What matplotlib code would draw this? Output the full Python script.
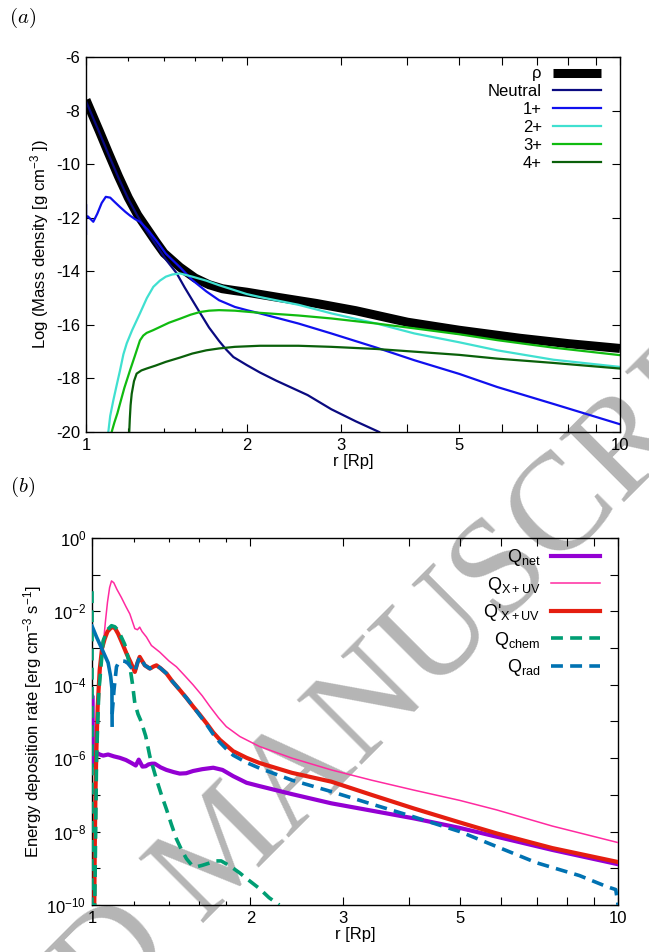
import numpy as np
import matplotlib
matplotlib.use('Agg')
import matplotlib.pyplot as plt
from matplotlib.ticker import FixedLocator, FixedFormatter, NullFormatter

plt.rcParams['font.family'] = ['Liberation Sans', 'DejaVu Sans']
plt.rcParams['mathtext.fontset'] = 'custom'
plt.rcParams['mathtext.rm'] = 'Liberation Sans'
plt.rcParams['mathtext.it'] = 'Liberation Sans:italic'
plt.rcParams['mathtext.bf'] = 'Liberation Sans:bold'
plt.rcParams['axes.unicode_minus'] = False

# ---------------- panel (a): log mass density ----------------
r_rho = [1.00, 1.03, 1.06, 1.10, 1.15, 1.20, 1.25, 1.30, 1.35, 1.40, 1.50, 1.60, 1.70,
         1.80, 1.90, 2.0, 2.3, 2.7, 3.2, 4.0, 5.0, 6.5, 8.0, 10.0]
rho = [-7.6, -8.2, -8.78, -9.55, -10.45, -11.25, -11.9, -12.4, -12.88, -13.32, -13.85,
       -14.25, -14.5, -14.65, -14.72, -14.78, -14.98, -15.2, -15.47, -15.9, -16.2, -16.5,
       -16.7, -16.88]

r_neu = [1.00, 1.03, 1.06, 1.10, 1.15, 1.20, 1.25, 1.30, 1.35, 1.41, 1.478, 1.53, 1.582,
         1.635, 1.70, 1.775, 1.83, 1.888, 2.0, 2.118, 2.27, 2.6, 2.88, 3.2, 3.54]
neu = [-7.65, -8.25, -8.83, -9.6, -10.5, -11.3, -11.95, -12.5, -12.98, -13.55, -14.07,
       -14.6, -15.08, -15.55, -16.1, -16.6, -16.92, -17.2, -17.5, -17.78, -18.08, -18.62,
       -19.15, -19.6, -20.0]

r_i1 = [1.0, 1.0, 1.0, 1.008, 1.02, 1.032, 1.05, 1.07, 1.089, 1.11, 1.13, 1.158, 1.185,
        1.209, 1.235, 1.262, 1.308, 1.36, 1.411, 1.5, 1.582, 1.68, 1.775, 1.9, 2.0, 2.116,
        2.5, 2.88, 3.5, 4.12, 5.0, 5.89, 7.5, 10.0]
i1 = [-12.6, -11.5, -12.0, -11.95, -12.05, -12.15, -11.85, -11.45, -11.22, -11.25, -11.4,
      -11.6, -11.78, -11.92, -12.05, -12.15, -12.47, -12.9, -13.34, -13.85, -14.33, -14.75,
      -15.08, -15.33, -15.45, -15.57, -15.95, -16.32, -16.85, -17.32, -17.83, -18.32,
      -18.95, -19.71]

r_i2 = [1.101, 1.11, 1.125, 1.14, 1.158, 1.175, 1.192, 1.22, 1.262, 1.3, 1.337, 1.375,
        1.411, 1.45, 1.5, 1.582, 1.68, 1.775, 2.0, 2.116, 2.5, 2.88, 3.5, 4.12, 5.0, 5.89,
        7.5, 10.0]
i2 = [-20.0, -19.4, -18.82, -18.3, -17.7, -17.1, -16.69, -16.2, -15.57, -15.0, -14.58,
      -14.35, -14.2, -14.12, -14.08, -14.2, -14.35, -14.52, -14.85, -14.96, -15.25, -15.57,
      -15.95, -16.32, -16.65, -16.95, -17.3, -17.57]

r_i3 = [1.117, 1.13, 1.145, 1.158, 1.18, 1.209, 1.235, 1.262, 1.28, 1.299, 1.335, 1.375,
        1.43, 1.5, 1.57, 1.635, 1.7, 1.775, 1.9, 2.116, 2.5, 2.88, 3.5, 4.12, 5.0, 5.89,
        7.5, 10.0]
i3 = [-20.0, -19.65, -19.3, -18.94, -18.35, -17.7, -17.15, -16.58, -16.4, -16.3, -16.2,
      -16.08, -15.92, -15.77, -15.62, -15.52, -15.47, -15.45, -15.47, -15.55, -15.65,
      -15.76, -15.95, -16.13, -16.35, -16.57, -16.85, -17.13]

r_i4 = [1.205, 1.208, 1.212, 1.218, 1.23, 1.244, 1.27, 1.299, 1.35, 1.411, 1.5, 1.582,
        1.68, 1.775, 1.9, 2.116, 2.5, 2.88, 3.5, 4.12, 5.0, 5.89, 7.5, 10.0]
i4 = [-20.0, -19.5, -19.0, -18.57, -18.1, -17.82, -17.7, -17.63, -17.52, -17.38, -17.22,
      -17.07, -16.95, -16.88, -16.82, -16.78, -16.78, -16.82, -16.9, -17.0, -17.12, -17.26,
      -17.42, -17.63]

labels_a = ['\u03c1', 'Neutral', '1+', '2+', '3+', '4+']

# ---------------- panel (b): energy deposition rates (log10) ----------------
r_net = [1.0, 1.001, 1.003, 1.006, 1.012, 1.02, 1.034, 1.05, 1.073, 1.1, 1.129, 1.16,
         1.188, 1.211, 1.227, 1.247, 1.265, 1.28, 1.3, 1.316, 1.35, 1.385, 1.43, 1.468,
         1.51, 1.556, 1.62, 1.70, 1.77, 1.855, 1.967, 2.08, 2.4, 2.85, 3.4, 4.09, 5.0,
         5.88, 7.5, 10.0]
q_net = [-6.1, -4.3, -6.2, -5.85, -5.9, -5.85, -5.9, -5.93, -5.9, -5.95, -5.99, -6.05,
         -6.13, -6.2, -6.04, -6.23, -6.22, -6.17, -6.15, -6.15, -6.25, -6.32, -6.38, -6.42,
         -6.41, -6.35, -6.3, -6.26, -6.32, -6.49, -6.67, -6.76, -6.98, -7.23, -7.43, -7.64,
         -7.9, -8.14, -8.5, -8.89]

r_xuv = [1.012, 1.016, 1.022, 1.03, 1.04, 1.049, 1.06, 1.07, 1.08, 1.089, 1.1, 1.115,
         1.137, 1.16, 1.18, 1.206, 1.22, 1.232, 1.245, 1.269, 1.297, 1.345, 1.4, 1.447,
         1.5, 1.556, 1.62, 1.675, 1.74, 1.80, 1.91, 2.08, 2.4, 2.85, 3.4, 4.09, 5.0, 5.88,
         7.5, 10.0]
q_xuv = [-10.0, -7.5, -5.5, -4.3, -3.5, -3.0, -2.3, -1.75, -1.35, -1.17, -1.22, -1.4,
         -1.62, -1.87, -2.07, -2.47, -2.5, -2.43, -2.55, -2.7, -2.93, -3.11, -3.35, -3.51,
         -3.75, -4.0, -4.3, -4.59, -4.9, -5.14, -5.41, -5.68, -6.0, -6.32, -6.6, -6.87,
         -7.15, -7.41, -7.85, -8.3]

r_xuvp = [1.010, 1.012, 1.015, 1.019, 1.025, 1.034, 1.045, 1.057, 1.07, 1.089, 1.105,
          1.121, 1.14, 1.163, 1.185, 1.206, 1.22, 1.232, 1.245, 1.26, 1.288, 1.31, 1.326,
          1.35, 1.385, 1.42, 1.468, 1.51, 1.556, 1.6, 1.651, 1.70, 1.75, 1.80, 1.855, 1.967,
          2.08, 2.4, 2.85, 3.4, 4.09, 5.0, 5.88, 7.5, 10.0]
q_xuvp = [-10.0, -8.5, -7.0, -5.86, -4.6, -3.6, -3.0, -2.75, -2.55, -2.43, -2.45, -2.61,
          -2.85, -3.15, -3.4, -3.65, -3.4, -3.24, -3.35, -3.47, -3.56, -3.5, -3.47, -3.55,
          -3.69, -3.9, -4.14, -4.35, -4.59, -4.8, -5.05, -5.3, -5.5, -5.65, -5.81, -5.99,
          -6.13, -6.4, -6.64, -7.0, -7.37, -7.75, -8.05, -8.45, -8.83]

r_chem = [1.0, 1.0, 1.012, 1.02, 1.03, 1.05, 1.07, 1.089, 1.105, 1.121, 1.137, 1.154,
          1.168, 1.18, 1.193, 1.206, 1.223, 1.24, 1.265, 1.288, 1.3, 1.326, 1.355, 1.385,
          1.415, 1.447, 1.48, 1.512, 1.545, 1.58, 1.62, 1.67, 1.72, 1.76, 1.80, 1.855,
          1.91, 1.967, 2.08, 2.17, 2.27]
q_chem = [-1.45, -10.0, -10.0, -6.0, -4.2, -2.8, -2.5, -2.39, -2.42, -2.52, -2.7, -2.9,
          -3.2, -3.5, -3.95, -4.5, -4.8, -5.0, -5.4, -5.95, -6.15, -6.58, -7.0, -7.39,
          -7.8, -8.2, -8.5, -8.74, -8.9, -8.96, -8.92, -8.86, -8.8, -8.8, -8.88, -9.0,
          -9.13, -9.28, -9.55, -9.8, -10.0]

r_rad_in = [1.0, 1.02, 1.035, 1.05, 1.073, 1.085, 1.091, 1.092]
q_rad_in = [-2.4, -2.7, -2.9, -3.1, -3.4, -3.78, -4.1, -5.1]

r_rad = [1.092, 1.101, 1.113, 1.125, 1.137, 1.155, 1.171, 1.19, 1.206, 1.22, 1.232, 1.245,
         1.26, 1.288, 1.31, 1.326, 1.35, 1.385, 1.42, 1.468, 1.51, 1.556, 1.6, 1.651, 1.70,
         1.75, 1.80, 1.855, 1.967, 2.08, 2.4, 2.85, 3.4, 4.09, 5.0, 5.88, 7.0, 8.45, 9.52,
         9.9, 10.0]
q_rad = [-4.8, -4.14, -3.51, -3.38, -3.35, -3.36, -3.42, -3.55, -3.65, -3.4, -3.24, -3.35,
         -3.47, -3.56, -3.5, -3.47, -3.55, -3.69, -3.9, -4.14, -4.35, -4.59, -4.82, -5.08,
         -5.35, -5.57, -5.75, -5.92, -6.12, -6.27, -6.6, -6.91, -7.25, -7.6, -8.0, -8.41,
         -8.85, -9.2, -9.5, -9.58, -10.0]

labels_b = [r'Q$_{\mathrm{net}}$', r'Q$_{\mathrm{X+UV}}$', r"Q'$_{\mathrm{X+UV}}$",
            r'Q$_{\mathrm{chem}}$', r'Q$_{\mathrm{rad}}$']

x_major = [1, 2, 3, 4, 5, 6, 7, 8, 9, 10]
x_labels = ['1', '2', '3', '', '5', '', '', '', '', '10']
x_minor = [1.2, 1.4, 1.6, 1.8]

# ---------------- figure ----------------
fig = plt.figure(figsize=(6.49, 9.52), dpi=100)

# watermark behind everything
fig.text(0.351, 0.106, 'ACCEPTED MANUSCRIPT', fontsize=100, family='Liberation Serif',
         color='#b5b5b5', rotation=45.0, rotation_mode='anchor', ha='center', va='center',
         zorder=-5)

ax1 = fig.add_axes([0.1325, 0.5462, 0.8228, 0.3939])
ax2 = fig.add_axes([0.1418, 0.0494, 0.8105, 0.3855])
for ax in (ax1, ax2):
    ax.patch.set_alpha(0)


def style_x(ax):
    ax.set_xscale('log')
    ax.set_xlim(1, 10)
    ax.xaxis.set_major_locator(FixedLocator(x_major))
    ax.xaxis.set_major_formatter(FixedFormatter(x_labels))
    ax.xaxis.set_minor_locator(FixedLocator(x_minor))
    ax.xaxis.set_minor_formatter(NullFormatter())
    ax.tick_params(which='both', direction='in', top=True, right=True, labelsize=12,
                   width=0.8)
    ax.tick_params(which='major', length=6, pad=4)
    ax.tick_params(which='minor', length=3)
    for s in ax.spines.values():
        s.set_linewidth(1.0)
    ax.set_xlabel('r [Rp]', fontsize=12, labelpad=1)


# panel (a)
ax1.plot(r_rho, rho, color='black', lw=6.5, solid_capstyle='butt', label=labels_a[0])
ax1.plot(r_neu, neu, color='#0a0a80', lw=1.6, label=labels_a[1])
ax1.plot(r_i1, i1, color='#1010ee', lw=1.6, label=labels_a[2])
ax1.plot(r_i2, i2, color='#40e0d0', lw=1.6, label=labels_a[3])
ax1.plot(r_i3, i3, color='#10bb10', lw=1.6, label=labels_a[4])
ax1.plot(r_i4, i4, color='#0a600a', lw=1.6, label=labels_a[5])
style_x(ax1)
ax1.set_ylim(-20, -6)
ax1.set_yticks(np.arange(-20, -5, 2))
ax1.set_ylabel('Log (Mass density [g cm$^{-3}$ ])', fontsize=12, labelpad=4)

leg1 = ax1.legend(loc='upper right', bbox_to_anchor=(0.9644, 0.975), frameon=False,
                  markerfirst=False, handlelength=2.9, handletextpad=0.65,
                  labelspacing=0.17, fontsize=12, borderaxespad=0, borderpad=0)
for col in leg1._legend_handle_box.get_children():
    col.align = 'right'

# panel (b)
pw = lambda v: np.power(10.0, v)
ax2.plot(r_net, pw(q_net), color='#9400d3', lw=3.0, label=labels_b[0], zorder=3)
ax2.plot(r_xuv, pw(q_xuv), color='#ff2aa0', lw=1.1, label=labels_b[1], zorder=4)
ax2.plot(r_xuvp, pw(q_xuvp), color='#e51e10', lw=3.0, label=labels_b[2], zorder=4)
ax2.plot(r_chem, pw(q_chem), color='#009e73', lw=2.6, dashes=(3.3, 2.0),
         label=labels_b[3], zorder=5)
ax2.plot(r_rad_in, pw(q_rad_in), color='#0072b2', lw=2.6, zorder=5)
ax2.plot(r_rad, pw(q_rad), color='#0072b2', lw=2.6, dashes=(3.3, 2.0),
         label=labels_b[4], zorder=5)
ax2.set_yscale('log')
style_x(ax2)
ax2.set_ylim(1e-10, 1)
ax2.yaxis.set_major_locator(FixedLocator([10.0 ** k for k in range(-10, 1)]))
ax2.yaxis.set_major_formatter(FixedFormatter(
    [('10$^{%d}$' % k) if k % 2 == 0 else '' for k in range(-10, 1)]))
ax2.yaxis.set_minor_locator(FixedLocator([]))
ax2.set_ylabel('Energy deposition rate [erg cm$^{-3}$ s$^{-1}$]', fontsize=12, labelpad=2)

leg2 = ax2.legend(loc='upper right', bbox_to_anchor=(0.9658, 0.975), frameon=False,
                  markerfirst=False, handlelength=2.7, handletextpad=0.6,
                  labelspacing=0.36, fontsize=13, borderaxespad=0, borderpad=0)
for col in leg2._legend_handle_box.get_children():
    col.align = 'right'

# panel labels
fig.text(0.034, 0.981, r'$(a)$', fontsize=15, math_fontfamily='cm', ha='center', va='center')
fig.text(0.034, 0.488, r'$(b)$', fontsize=15, math_fontfamily='cm', ha='center', va='center')

fig.savefig('out.png', dpi=100)
